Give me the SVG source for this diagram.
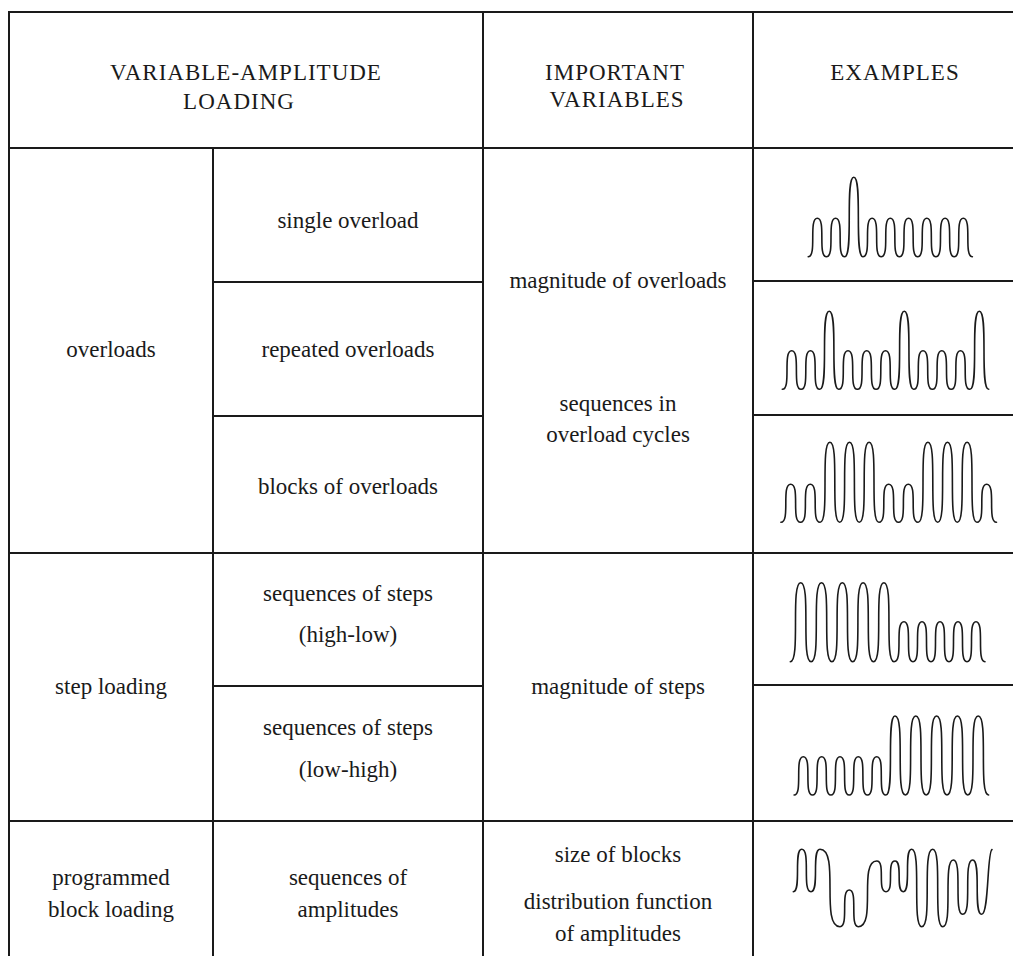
<svg xmlns="http://www.w3.org/2000/svg" width="1013" height="956" viewBox="0 0 1013 956">
<style>
.t{font-family:"Liberation Serif","Times New Roman",serif;font-size:23px;fill:#1a1a1a;text-anchor:middle}
.h{letter-spacing:1px}
.g{stroke:#1a1a1a;stroke-width:2;fill:none}
.w{stroke:#1a1a1a;stroke-width:1.6;fill:none;stroke-linecap:round;stroke-linejoin:round}
</style>
<rect width="1013" height="956" fill="#fff"/>
<g id="grid" class="g">
<path d="M8,12H1013M9,12V956M483,12V956M753,12V956M213,148V956"/>
<path d="M9,148H1013M9,553H1013M9,821H1013"/>
<path d="M213,282H483M753,281H1013M213,416H483M753,415H1013M213,686H483M753,685H1013"/>
</g>
<g id="hdr-loading"><text class="t h" x="246" y="80">VARIABLE-AMPLITUDE</text><text class="t h" x="239" y="109">LOADING</text></g>
<g id="hdr-variables"><text class="t h" x="615" y="80">IMPORTANT</text><text class="t h" x="617" y="107">VARIABLES</text></g>
<g id="hdr-examples"><text class="t h" x="895" y="80">EXAMPLES</text></g>
<g id="cat-overloads"><text class="t" x="111" y="357">overloads</text></g>
<g id="cat-step"><text class="t" x="111" y="694">step loading</text></g>
<g id="cat-programmed"><text class="t" x="111" y="885">programmed</text><text class="t" x="111" y="917">block loading</text></g>
<g id="type-single"><text class="t" x="348" y="228">single overload</text></g>
<g id="type-repeated"><text class="t" x="348" y="357">repeated overloads</text></g>
<g id="type-blocks"><text class="t" x="348" y="494">blocks of overloads</text></g>
<g id="type-highlow"><text class="t" x="348" y="601">sequences of steps</text><text class="t" x="348" y="642">(high-low)</text></g>
<g id="type-lowhigh"><text class="t" x="348" y="735">sequences of steps</text><text class="t" x="348" y="777">(low-high)</text></g>
<g id="type-amplitudes"><text class="t" x="348" y="885">sequences of</text><text class="t" x="348" y="917">amplitudes</text></g>
<g id="var-overloads"><text class="t" x="618" y="288">magnitude of overloads</text><text class="t" x="618" y="411">sequences in</text><text class="t" x="618" y="442">overload cycles</text></g>
<g id="var-steps"><text class="t" x="618" y="694">magnitude of steps</text></g>
<g id="var-blocks"><text class="t" x="618" y="862">size of blocks</text><text class="t" x="618" y="909">distribution function</text><text class="t" x="618" y="941">of amplitudes</text></g>
<g id="ex-single" class="w"><path d="M808.2,256.7C817.3,256.7 808.2,218.3 817.3,218.3C826.4,218.3 817.3,256.7 826.4,256.7C835.6,256.7 826.4,218.3 835.6,218.3C844.7,218.3 835.6,256.7 844.7,256.7C853.8,256.7 844.7,177.3 853.8,177.3C862.9,177.3 853.8,256.7 862.9,256.7C872.1,256.7 862.9,218.3 872.1,218.3C881.2,218.3 872.1,256.7 881.2,256.7C890.3,256.7 881.2,218.3 890.3,218.3C899.4,218.3 890.3,256.7 899.4,256.7C908.6,256.7 899.4,218.3 908.6,218.3C917.7,218.3 908.6,256.7 917.7,256.7C926.8,256.7 917.7,218.3 926.8,218.3C935.9,218.3 926.8,256.7 935.9,256.7C945.1,256.7 935.9,218.3 945.1,218.3C954.2,218.3 945.1,256.7 954.2,256.7C963.3,256.7 954.2,218.3 963.3,218.3C972.4,218.3 963.3,256.7 972.4,256.7"/></g>
<g id="ex-repeated" class="w"><path d="M782.3,389.3C791.7,389.3 782.3,350.8 791.7,350.8C801.1,350.8 791.7,389.3 801.1,389.3C810.5,389.3 801.1,350.8 810.5,350.8C819.8,350.8 810.5,389.3 819.8,389.3C829.2,389.3 819.8,311.2 829.2,311.2C838.6,311.2 829.2,389.3 838.6,389.3C848,389.3 838.6,350.8 848,350.8C857.4,350.8 848,389.3 857.4,389.3C866.7,389.3 857.4,350.8 866.7,350.8C876.1,350.8 866.7,389.3 876.1,389.3C885.5,389.3 876.1,350.8 885.5,350.8C894.9,350.8 885.5,389.3 894.9,389.3C904.3,389.3 894.9,311.2 904.3,311.2C913.6,311.2 904.3,389.3 913.6,389.3C923,389.3 913.6,350.8 923,350.8C932.4,350.8 923,389.3 932.4,389.3C941.8,389.3 932.4,350.8 941.8,350.8C951.2,350.8 941.8,389.3 951.2,389.3C960.5,389.3 951.2,350.8 960.5,350.8C969.9,350.8 960.5,389.3 969.9,389.3C979.3,389.3 969.9,311.2 979.3,311.2C988.7,311.2 979.3,389.3 988.7,389.3"/></g>
<g id="ex-blocks" class="w"><path d="M780.9,522.3C790.7,522.3 780.9,484.3 790.7,484.3C800.5,484.3 790.7,522.3 800.5,522.3C810.3,522.3 800.5,484.3 810.3,484.3C820.1,484.3 810.3,522.3 820.1,522.3C829.9,522.3 820.1,442.3 829.9,442.3C839.7,442.3 829.9,522.3 839.7,522.3C849.5,522.3 839.7,442.3 849.5,442.3C859.3,442.3 849.5,522.3 859.3,522.3C869.1,522.3 859.3,442.3 869.1,442.3C878.9,442.3 869.1,522.3 878.9,522.3C888.7,522.3 878.9,484.3 888.7,484.3C898.5,484.3 888.7,522.3 898.5,522.3C908.3,522.3 898.5,484.3 908.3,484.3C918.1,484.3 908.3,522.3 918.1,522.3C927.9,522.3 918.1,442.3 927.9,442.3C937.7,442.3 927.9,522.3 937.7,522.3C947.5,522.3 937.7,442.3 947.5,442.3C957.3,442.3 947.5,522.3 957.3,522.3C967.1,522.3 957.3,442.3 967.1,442.3C976.9,442.3 967.1,522.3 976.9,522.3C986.7,522.3 976.9,484.3 986.7,484.3C996.5,484.3 986.7,522.3 996.5,522.3"/></g>
<g id="ex-highlow" class="w"><path d="M790.3,661.7C800.7,661.7 790.3,582.7 800.7,582.7C811.1,582.7 800.7,661.7 811.1,661.7C821.5,661.7 811.1,582.7 821.5,582.7C831.9,582.7 821.5,661.7 831.9,661.7C842.3,661.7 831.9,582.7 842.3,582.7C852.7,582.7 842.3,661.7 852.7,661.7C863.1,661.7 852.7,582.7 863.1,582.7C873.5,582.7 863.1,661.7 873.5,661.7C883.9,661.7 873.5,582.7 883.9,582.7C894,582.7 883.9,661.7 894,661.7C904,661.7 894,621.7 904,621.7C913,621.7 904,661.7 913,661.7C922,661.7 913,621.7 922,621.7C931,621.7 922,661.7 931,661.7C940,661.7 931,621.7 940,621.7C949,621.7 940,661.7 949,661.7C958,661.7 949,621.7 958,621.7C967,621.7 958,661.7 967,661.7C976,661.7 967,621.7 976,621.7C985,621.7 976,661.7 985,661.7"/></g>
<g id="ex-lowhigh" class="w"><path d="M794.1,795C803.3,795 794.1,756.7 803.3,756.7C812.5,756.7 803.3,795 812.5,795C821.7,795 812.5,756.7 821.7,756.7C830.9,756.7 821.7,795 830.9,795C840,795 830.9,756.7 840,756.7C849.2,756.7 840,795 849.2,795C858.3,795 849.2,756.7 858.3,756.7C867.5,756.7 858.3,795 867.5,795C876.7,795 867.5,756.7 876.7,756.7C885.9,756.7 876.7,795 885.9,795C895,795 885.9,716 895,716C905.4,716 895,795 905.4,795C915.8,795 905.4,716 915.8,716C926.2,716 915.8,795 926.2,795C936.6,795 926.2,716 936.6,716C947,716 936.6,795 947,795C957.4,795 947,716 957.4,716C967.8,716 957.4,795 967.8,795C978.2,795 967.8,716 978.2,716C988.6,716 978.2,795 988.6,795"/></g>
<g id="ex-programmed" class="w"><path d="M793.3,891.7C801.7,891.7 793.3,849.3 801.7,849.3C811,849.3 801.7,891.7 811,891.7C820,891.7 811,849.3 820,849.3C840,849.3 820,926.7 840,926.7C849.3,926.7 840,890 849.3,890C858.3,890 849.3,926.7 858.3,926.7C876.7,926.7 858.3,861 876.7,861C886,861 876.7,891.7 886,891.7C895,891.7 886,861 895,861C903.3,861 895,891.7 903.3,891.7C911.7,891.7 903.3,849.3 911.7,849.3C921.7,849.3 911.7,926.7 921.7,926.7C932.7,926.7 921.7,849.3 932.7,849.3C942.7,849.3 932.7,926.7 942.7,926.7C953.3,926.7 942.7,860 953.3,860C962.7,860 953.3,914.3 962.7,914.3C972.7,914.3 962.7,860 972.7,860C981.7,860 972.7,914.3 981.7,914.3C989,914.3 987,852 992,849.5"/></g>
</svg>
